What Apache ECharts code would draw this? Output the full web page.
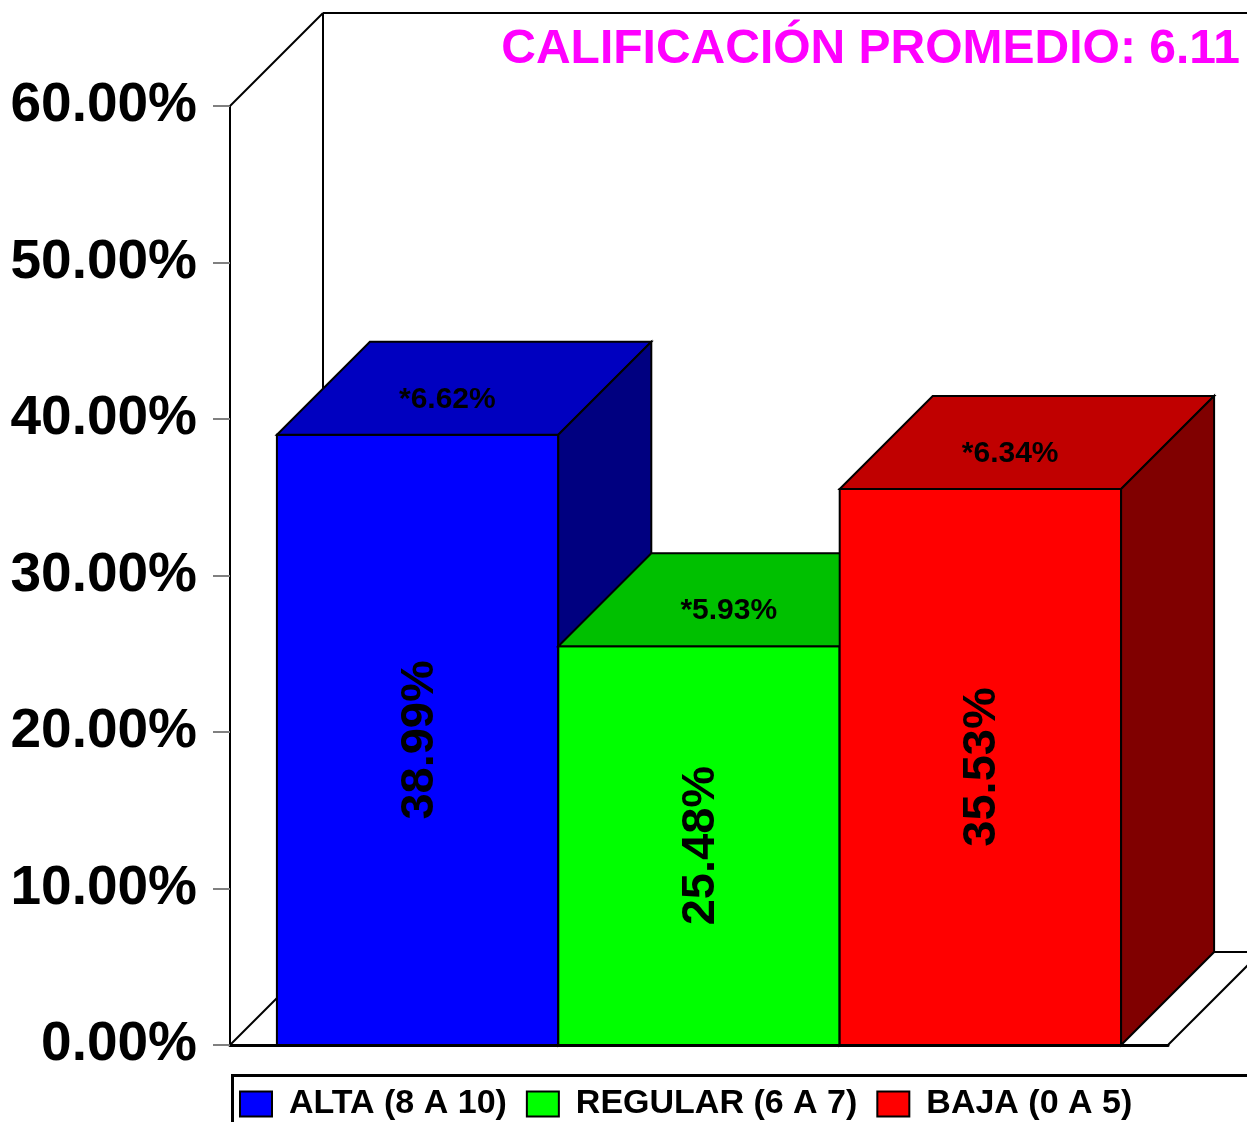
<!DOCTYPE html>
<html>
<head>
<meta charset="utf-8">
<script src="https://cdn.jsdelivr.net/npm/echarts@6/dist/echarts.min.js"></script>
<style>
  html, body { margin: 0; padding: 0; background: #fff; }
  #chart { width: 1247px; height: 1122px; }
</style>
</head>
<body>
<div id="chart"></div>
<script>
// datos
var categorias = ['ALTA (8 A 10)', 'REGULAR (6 A 7)', 'BAJA (0 A 5)'];
var porcentajes = [38.99, 25.48, 35.53];
var etiquetasSup = ['*6.62%', '*5.93%', '*6.34%'];
var titulo = 'CALIFICACIÓN PROMEDIO: 6.11';
var yMin = 0, yMax = 60, yPaso = 10;

var colFrente = ['#0000FF', '#00FF00', '#FF0000'];
var colArriba = ['#0000C0', '#00C000', '#C00000'];
var colLado = ['#000080', '#008000', '#800000'];
var D = 93; // profundidad 3D en px
var fuente = '"Liberation Sans", Arial, sans-serif';

function renderMarco(params, api) {
  var b = api.coord([0, yMin]);
  var t = api.coord([0, yMax]);
  var band = api.size([1, 0])[0];
  var L = b[0] - band / 2, R = b[0] + band / 2;
  var yB = b[1], yT = t[1];
  var st = { stroke: '#000', lineWidth: 2 };
  function ln(x1, y1, x2, y2) {
    return { type: 'line', shape: { x1: x1, y1: y1, x2: x2, y2: y2 }, style: st };
  }
  return {
    type: 'group',
    children: [
      ln(L, yT, L + D, yT - D),
      ln(L + D, yT - D, L + D, yB - D),
      ln(L + D, yT - D, R + D, yT - D),
      ln(L, yB, L + D, yB - D),
      ln(L + D, yB - D, R + D, yB - D),
      ln(R, yB, R + D, yB - D),
      ln(R + D, yB - D, R + D, yT - D)
    ]
  };
}

function hacerBarra(i) {
  return function (params, api) {
    var base = api.coord([0, yMin]);
    var tope = api.coord([0, api.value(1)]);
    var band = api.size([1, 0])[0];
    var w = band * 0.9 / categorias.length;
    var x0 = base[0] - band * 0.45 + i * w;
    var yb = base[1], yt = tope[1];
    var borde = { stroke: '#000', lineWidth: 2 };
    return {
      type: 'group',
      children: [
        { type: 'rect', shape: { x: x0, y: yt, width: w, height: yb - yt },
          style: Object.assign({ fill: colFrente[i] }, borde) },
        { type: 'polygon', shape: { points: [[x0, yt], [x0 + D, yt - D], [x0 + w + D, yt - D], [x0 + w, yt]] },
          style: Object.assign({ fill: colArriba[i] }, borde) },
        { type: 'polygon', shape: { points: [[x0 + w, yt], [x0 + w + D, yt - D], [x0 + w + D, yb - D], [x0 + w, yb]] },
          style: Object.assign({ fill: colLado[i] }, borde) },
        { type: 'text', x: x0 + w / 2 + 2, y: (yt + yb) / 2, rotation: Math.PI / 2,
          style: { text: porcentajes[i].toFixed(2) + '%', fill: '#000', font: 'bold 47px ' + fuente,
                   align: 'center', verticalAlign: 'middle' } },
        { type: 'text', x: x0 + w / 2 + D * 0.32, y: yt - D * 0.38,
          style: { text: etiquetasSup[i], fill: '#000', font: 'bold 30px ' + fuente,
                   align: 'center', verticalAlign: 'middle' } }
      ]
    };
  };
}

var series = [{
  name: 'marco', type: 'custom', renderItem: renderMarco, clip: false, silent: true,
  data: [[0, yMax]], z: 1
}];
categorias.forEach(function (c, i) {
  series.push({
    name: c, type: 'custom', renderItem: hacerBarra(i), clip: false,
    itemStyle: { color: colFrente[i] },
    data: [[0, porcentajes[i]]], z: 2 + i
  });
});

var chart = echarts.init(document.getElementById('chart'));
chart.setOption({
  backgroundColor: '#fff',
  animation: false,
  title: {
    text: titulo, right: 2, top: 21,
    textStyle: { color: '#FF00FF', fontSize: 48, fontWeight: 'bold', fontFamily: fuente }
  },
  // marco de la leyenda, se sale del lienzo como en el original
  graphic: [{
    type: 'rect', left: 230, top: 1073,
    shape: { width: 1100, height: 100 },
    style: { fill: 'none', stroke: '#000', lineWidth: 3 }
  }],
  legend: {
    data: categorias, left: 230, top: 1073, width: 1200,
    itemWidth: 32, itemHeight: 25, itemGap: 19, icon: 'rect',
    padding: [14, 5, 5, 9],
    itemStyle: { borderColor: '#000', borderWidth: 2 },
    textStyle: { color: '#000', fontSize: 34, fontWeight: 'bold', fontFamily: fuente, padding: [0, 0, 0, 12] }
  },
  grid: { left: 230, right: 79, top: 106, bottom: 77 },
  xAxis: {
    type: 'category', data: [''],
    axisLine: { show: true, lineStyle: { color: '#000', width: 3 } },
    axisTick: { show: false }, axisLabel: { show: false }
  },
  yAxis: {
    type: 'value', min: yMin, max: yMax, interval: yPaso,
    axisLine: { show: true, lineStyle: { color: '#000', width: 2 } },
    axisTick: { show: true, length: 17, lineStyle: { color: '#808080', width: 2 } },
    splitLine: { show: false },
    axisLabel: {
      formatter: function (v) { return v.toFixed(2) + '%'; },
      color: '#000', fontSize: 55, fontWeight: 'bold', fontFamily: fuente, margin: 33,
      padding: [9, 0, 0, 0]
    }
  },
  series: series
});
</script>
</body>
</html>
